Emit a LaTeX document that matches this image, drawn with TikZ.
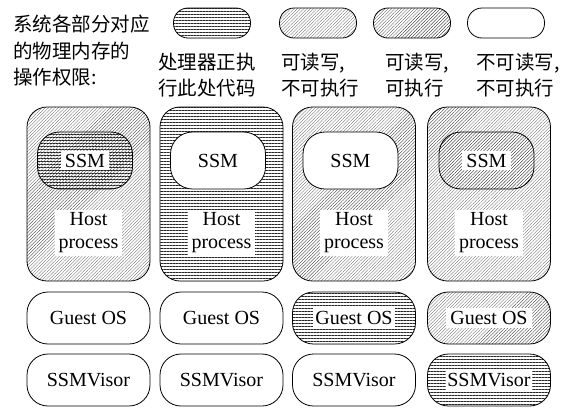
\documentclass[tikz,border=0pt]{standalone}
\usepackage{fontspec}
\setmainfont{Liberation Serif}
\newfontfamily\cjk{Noto Sans CJK SC}
\usetikzlibrary{patterns.meta}

\tikzset{
  % memory permission fills
  execfill/.style={pattern={Lines[angle=0,distance=3pt,line width=0.28pt]},pattern color=black!85},
  rwfill/.style={pattern={Lines[angle=45,distance=2.3pt,line width=0.22pt]},pattern color=black!80},
  rwxfill/.style={pattern={Lines[angle=45,distance=2.3pt,line width=0.32pt]},pattern color=black!90},
  nofill/.style={fill=white},
  % outlines
  region/.style={draw,line width=0.8pt,rectangle,inner sep=0pt},
  hostbox/.style={region,rounded corners=20pt,minimum width=123pt,minimum height=174pt},
  ssmbox/.style={region,rounded corners=22pt,minimum width=95pt,minimum height=57pt},
  layerbox/.style={region,rounded corners=21pt,minimum width=123pt,minimum height=52pt},
  keybox/.style={region,rounded corners=14.5pt,minimum width=77pt,minimum height=30pt},
  % texts
  lbl/.style={fill=white,inner xsep=4pt,inner ysep=3pt,font=\fontsize{20}{23}\selectfont,align=center},
  cjktext/.style={anchor=west,align=left,inner sep=0pt,font=\cjk\fontsize{19.5}{26.5}\selectfont},
}

\begin{document}
\begin{tikzpicture}[x=1pt,y=-1pt]
\useasboundingbox (0,0) rectangle (561,410);

% heading and legend
\node[cjktext] (title) at (13,51) {系统各部分对应\\的物理内存的\\操作权限:};

\node[keybox,execfill] (k1) at (212,23) {};
\node[keybox,rwfill]   (k2) at (318,23) {};
\node[keybox,rwxfill]  (k3) at (412,23) {};
\node[keybox,nofill]   (k4) at (506,23) {};

\node[cjktext] (t1) at (158,75) {处理器正执\\行此处代码};
\node[cjktext] (t2) at (281,75) {可读写,\\不可执行};
\node[cjktext] (t3) at (385,75) {可读写,\\可执行};
\node[cjktext] (t4) at (476,75) {不可读写,\\不可执行};

% column 1: SSM running
\node[hostbox,rwfill] (h1) at (88.5,194) {};
\node[ssmbox,execfill] (s1) at (85,160.5) {};
\node[lbl] at (s1) {SSM};
\node[lbl] at (88.5,233) {Host\\process};
\node[layerbox,nofill] (g1) at (88.5,318) {};
\node[lbl] at (g1) {Guest OS};
\node[layerbox,nofill] (v1) at (88.5,380) {};
\node[lbl] at (v1) {SSMVisor};

% column 2: host process running
\node[hostbox,execfill] (h2) at (221.5,194) {};
\node[ssmbox,nofill] (s2) at (218,160.5) {};
\node[lbl] at (s2) {SSM};
\node[lbl] at (221.5,233) {Host\\process};
\node[layerbox,nofill] (g2) at (221.5,318) {};
\node[lbl] at (g2) {Guest OS};
\node[layerbox,nofill] (v2) at (221.5,380) {};
\node[lbl] at (v2) {SSMVisor};

% column 3: guest OS running
\node[hostbox,rwfill] (h3) at (354,194) {};
\node[ssmbox,nofill] (s3) at (350.5,160.5) {};
\node[lbl] at (s3) {SSM};
\node[lbl] at (354,233) {Host\\process};
\node[layerbox,execfill] (g3) at (354,318) {};
\node[lbl,inner xsep=2pt] at (g3) {Guest OS};
\node[layerbox,nofill] (v3) at (354,380) {};
\node[lbl] at (v3) {SSMVisor};

% column 4: SSMVisor running
\node[hostbox,rwfill] (h4) at (489,194) {};
\node[ssmbox,rwfill] (s4) at (486.5,160.5) {};
\node[lbl] at (s4) {SSM};
\node[lbl] at (489,233) {Host\\process};
\node[layerbox,rwfill] (g4) at (489,318) {};
\node[lbl] at (g4) {Guest OS};
\node[layerbox,execfill] (v4) at (489,380) {};
\node[lbl,inner xsep=1pt] at (v4) {SSMVisor};
\end{tikzpicture}
\end{document}
